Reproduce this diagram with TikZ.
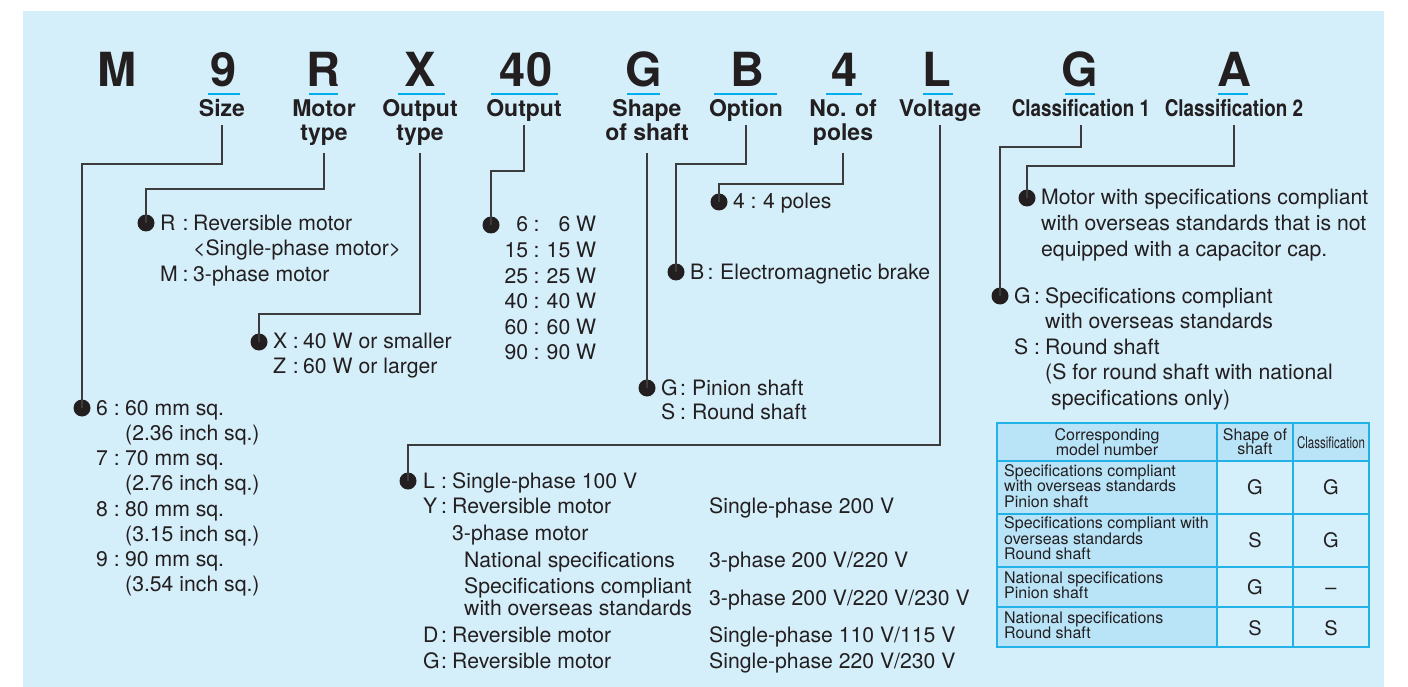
\documentclass[tikz,border=0pt]{standalone}
\usepackage{fontspec}
\usepackage{graphicx}
\setmainfont{TeX Gyre Heros}
\definecolor{bgc}{RGB}{212,238,250}
\definecolor{cellD}{RGB}{185,228,248}
\definecolor{cellL}{RGB}{214,240,251}
\definecolor{tbord}{RGB}{35,178,232}
\definecolor{cyanU}{RGB}{0,174,239}
\definecolor{ink}{RGB}{35,31,32}
\definecolor{linec}{RGB}{60,60,60}
\newcommand{\kc}[3]{\makebox[#1][l]{#2}\makebox[#3][c]{:}}
\newcommand{\pw}[2]{\makebox[23pt][r]{#1}\makebox[17pt][c]{:}\makebox[51pt][r]{#2}}
\begin{document}
\begin{tikzpicture}[x=1pt,y=-1pt,
  big/.style={font=\fontsize{47}{47}\selectfont\bfseries, anchor=base, inner sep=0, text=ink},
  lab/.style={font=\fontsize{23}{24}\selectfont\bfseries, anchor=base, inner sep=0, text depth=0pt, outer ysep=8pt, text=ink},
  labB/.style={lab, outer ysep=12pt},
  txt/.style={font=\fontsize{21.2}{25}\selectfont, anchor=base west, inner sep=0, text=ink},
  tab/.style={font=\fontsize{16}{15.5}\selectfont, anchor=base west, inner sep=0, text=ink},
  tabc/.style={tab, anchor=base},
  tabL/.style={font=\fontsize{20}{20}\selectfont, anchor=base, inner sep=0, text=ink},
  dot/.style={circle, fill=ink, inner sep=0, minimum size=17pt},
  con/.style={draw=linec, line width=1.2pt},
  ul/.style={draw=cyanU, line width=2.8pt}]
\useasboundingbox (0,0) rectangle (1408,687);
\fill[white] (0,0) rectangle (1408,687);
\fill[bgc] (23,11) rectangle (1384,687);

% big letters
\node[big] (bM) at (117,87) {M};
\node[big] (b9) at (224,87) {9};
\node[big] (bR) at (323,87) {R};
\node[big] (bX) at (420,87) {X};
\node[big] (b40) at (526,87) {40};
\node[big] (bG) at (644,87) {G};
\node[big] (bB) at (747,87) {B};
\node[big] (b4) at (845,87) {4};
\node[big] (bL) at (937,87) {L};
\node[big] (bG2) at (1080,87) {G};
\node[big] (bA) at (1234,87) {A};

% underlines
\draw[ul] (208,94) -- (240,94);
\draw[ul] (309,94) -- (338,94);
\draw[ul] (398,94) -- (445,94);
\draw[ul] (491,94) -- (558,94);
\draw[ul] (627,94) -- (660,94);
\draw[ul] (714,94) -- (777,94);
\draw[ul] (826,94) -- (862,94);
\draw[ul] (923,94) -- (953,94);
\draw[ul] (1065,94) -- (1095,94);
\draw[ul] (1218,94) -- (1248,94);

% labels
\node[lab] (lSize) at (222,117) {Size};
\node[lab] (lMotA) at (324,117) {Motor};
\node[labB] (lMot) at (324,141) {type};
\node[lab] (lOtA) at (420,117) {Output};
\node[labB] (lOt) at (420,141) {type};
\node[lab] (lPow) at (524,117) {Output};
\node[lab] (lShA) at (647,117) {Shape};
\node[labB] (lSh) at (647,141) {of shaft};
\node[lab] (lOpt) at (746,117) {Option};
\node[lab] (lPoA) at (843,117) {No. of};
\node[labB] (lPo) at (843,141) {poles};
\node[lab] (lVolt) at (940,117) {Voltage};
\node[lab] (lCl1) at (1081,117) {\scalebox{0.82}[1]{Classification 1}};
\node[lab] (lCl2) at (1234,117) {\scalebox{0.82}[1]{Classification 2}};

% corners and dots
\coordinate (cSize) at (82,164);   \node[dot] (dSize) at (82,408) {};
\coordinate (cMot) at (146,189);   \node[dot] (dMot) at (146,223) {};
\coordinate (cOt) at (259,314);    \node[dot] (dOt) at (259,342) {};
\coordinate (cPow) at (491,171);   \node[dot] (dPow) at (491,225) {};
\node[dot] (dSh) at (647,388) {};
\coordinate (cOpt) at (676,164);   \node[dot] (dOpt) at (676,272) {};
\coordinate (cPo) at (719,184);    \node[dot] (dPo) at (719,202) {};
\coordinate (cVolt) at (408,445);  \node[dot] (dVolt) at (408,481) {};
\coordinate (cCl1) at (1000,147);  \node[dot] (dCl1) at (1000,296) {};
\coordinate (cCl2) at (1027,166);  \node[dot] (dCl2) at (1027,198) {};

\draw[con] (lSize.south) |- (cSize) -- (dSize.center);
\draw[con] (lMot.south) |- (cMot) -- (dMot.center);
\draw[con] (lOt.south) |- (cOt) -- (dOt.center);
\draw[con] (lPow.south) |- (cPow) -- (dPow.center);
\draw[con] (lSh.south) -- (dSh.center);
\draw[con] (lOpt.south) |- (cOpt) -- (dOpt.center);
\draw[con] (lPo.south) |- (cPo) -- (dPo.center);
\draw[con] (lVolt.south) |- (cVolt) -- (dVolt.center);
\draw[con] (lCl1.south) |- (cCl1) -- (dCl1.center);
\draw[con] (lCl2.south) |- (cCl2) -- (dCl2.center);

% motor type
\node[txt] (m1) at (160,230) {\kc{18pt}{R}{15pt}Reversible motor};
\node[txt] (m2) at (193,255.5) {<Single-phase motor>};
\node[txt] (m3) at (160,281) {\kc{18pt}{M}{15pt}3-phase motor};

% output type
\node[txt] (o1) at (273,348) {\kc{15pt}{X}{15pt}40 W or smaller};
\node[txt] (o2) at (273,373) {\kc{15pt}{Z}{15pt}60 W or larger};

% size
\node[txt] (s1) at (96,415) {\kc{12.4pt}{6}{16.6pt}60 mm sq.};
\node[txt] (s2) at (125,440) {(2.36 inch sq.)};
\node[txt] (s3) at (96,465.5) {\kc{12.4pt}{7}{16.6pt}70 mm sq.};
\node[txt] (s4) at (125,490.5) {(2.76 inch sq.)};
\node[txt] (s5) at (96,516) {\kc{12.4pt}{8}{16.6pt}80 mm sq.};
\node[txt] (s6) at (125,541) {(3.15 inch sq.)};
\node[txt] (s7) at (96,566) {\kc{12.4pt}{9}{16.6pt}90 mm sq.};
\node[txt] (s8) at (125,591) {(3.54 inch sq.)};

% output
\node[txt] (p1) at (505,232) {\pw{6}{6 W}};
\node[txt] (p2) at (505,257.5) {\pw{15}{15 W}};
\node[txt] (p3) at (505,283) {\pw{25}{25 W}};
\node[txt] (p4) at (505,308.5) {\pw{40}{40 W}};
\node[txt] (p5) at (505,334) {\pw{60}{60 W}};
\node[txt] (p6) at (505,359.5) {\pw{90}{90 W}};

% poles, option, shaft
\node[txt] (n1) at (733,208) {\kc{11pt}{4}{19pt}4 poles};
\node[txt] (b1) at (690,279) {\kc{11pt}{B}{19pt}Electromagnetic brake};
\node[txt] (g1) at (661,395) {\kc{13pt}{G}{18pt}Pinion shaft};
\node[txt] (g2) at (661,419.5) {\kc{13pt}{S}{18pt}Round shaft};

% classification 2
\node[txt] (a1) at (1041,205) {Motor with specifications compliant};
\node[txt] (a2) at (1041,230.5) {with overseas standards that is not};
\node[txt] (a3) at (1041,256) {equipped with a capacitor cap.};

% classification 1
\node[txt] (k1) at (1014,303) {\kc{15pt}{G}{16pt}Specifications compliant};
\node[txt] (k2) at (1045,328.5) {with overseas standards};
\node[txt] (k3) at (1014,354) {\kc{15pt}{S}{16pt}Round shaft};
\node[txt] (k4) at (1045,379.5) {(S for round shaft with national};
\node[txt] (k5) at (1051,405) {specifications only)};

% voltage
\node[txt] (v1) at (423,488) {\kc{13pt}{L}{16pt}Single-phase 100 V};
\node[txt] (v2) at (423,513.5) {\kc{13pt}{Y}{16pt}Reversible motor};
\node[txt] (v3) at (452,540) {3-phase motor};
\node[txt] (v4) at (464,567.5) {National specifications};
\node[txt] (v5) at (464,593) {Specifications compliant};
\node[txt] (v6) at (464,615) {with overseas standards};
\node[txt] (v7) at (423,642) {\kc{13pt}{D}{16pt}Reversible motor};
\node[txt] (v8) at (423,668) {\kc{13pt}{G}{16pt}Reversible motor};
\node[txt] (w1) at (709,513.5) {Single-phase 200 V};
\node[txt] (w2) at (709,567.5) {3-phase 200 V/220 V};
\node[txt] (w3) at (709,605) {3-phase 200 V/220 V/230 V};
\node[txt] (w4) at (709,642) {Single-phase 110 V/115 V};
\node[txt] (w5) at (709,668) {Single-phase 220 V/230 V};

% table
\fill[cellL] (997,423) rectangle (1369,647);
\fill[cellD] (997,423) rectangle (1369,461);
\fill[cellD] (997,423) rectangle (1217,647);
\draw[tbord, line width=1.3pt] (997,423) rectangle (1369,647);
\foreach \yy in {461,514,567,607} \draw[tbord, line width=1.3pt] (997,\yy) -- (1369,\yy);
\foreach \xx in {1217,1293} \draw[tbord, line width=1.3pt] (\xx,423) -- (\xx,647);

\node[tabc] (h1) at (1107,440) {Corresponding};
\node[tabc] (h2) at (1107,455) {model number};
\node[tabc] (h3) at (1255,440) {Shape of};
\node[tabc] (h4) at (1255,454.5) {shaft};
\node[tabc] (h5) at (1331,448) {\scalebox{0.72}[1]{Classification}};

\node[tab] (r1a) at (1004,476) {Specifications compliant};
\node[tab] (r1b) at (1004,491.5) {with overseas standards};
\node[tab] (r1c) at (1004,507) {Pinion shaft};
\node[tab] (r2a) at (1004,528.5) {Specifications compliant with};
\node[tab] (r2b) at (1004,544) {overseas standards};
\node[tab] (r2c) at (1004,559.5) {Round shaft};
\node[tab] (r3a) at (1004,583) {National specifications};
\node[tab] (r3b) at (1004,598.5) {Pinion shaft};
\node[tab] (r4a) at (1004,623) {National specifications};
\node[tab] (r4b) at (1004,638.5) {Round shaft};

\node[tabL] (x1) at (1255,494) {G};
\node[tabL] (y1) at (1331,494) {G};
\node[tabL] (x2) at (1255,547) {S};
\node[tabL] (y2) at (1331,547) {G};
\node[tabL] (x3) at (1255,594) {G};
\node[tabL] (y3) at (1331,594) {–};
\node[tabL] (x4) at (1255,635) {S};
\node[tabL] (y4) at (1331,635) {S};
\end{tikzpicture}
\end{document}
